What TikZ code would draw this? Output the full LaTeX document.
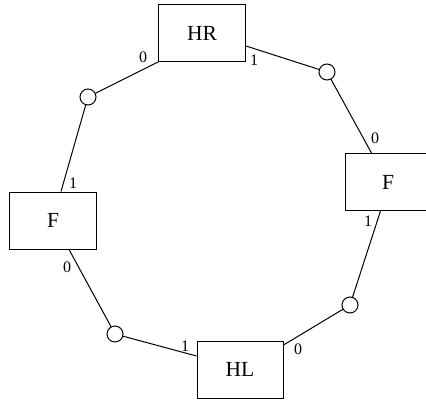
\documentclass[tikz,border=0pt]{standalone}
\usepackage{fontspec}
\setmainfont{Liberation Serif}
\usetikzlibrary{calc}
\tikzset{
  box/.style={draw, line width=1pt, minimum width=87pt, minimum height=57pt, inner sep=0pt, font=\fontsize{21.5}{23}\selectfont},
  dot/.style={draw, circle, line width=1pt, minimum size=16pt, inner sep=0pt},
  lbl/.style={inner sep=0pt, font=\fontsize{16}{17}\selectfont},
  wire/.style={line width=1pt}
}
\begin{document}
\begin{tikzpicture}[x=1pt,y=-1pt]
\useasboundingbox (0,0) rectangle (426,400);
\begin{scope}
\clip (0,0) rectangle (426,400);
\node[box] (HR) at (202,33) {HR};
\node[box, minimum width=86pt] (FR) at (388,182) {F};
\node[box] (FL) at (53,220.5) {F};
\node[box, minimum width=86pt] (HL) at (240,369.5) {HL};
\node[dot] (c1) at (88,97) {};
\node[dot] (c2) at (327,72) {};
\node[dot] (c3) at (350,305) {};
\node[dot] (c4) at (115,334) {};
\coordinate (hr0) at (HR.south west);
\coordinate (hr1) at ($(HR.east)+(0,13)$);
\coordinate (fr0) at ($(FR.north west)+(27,0)$);
\coordinate (fr1) at ($(FR.south west)+(36,0)$);
\coordinate (hl0) at ($(HL.east)+(0,-24.5)$);
\coordinate (hl1) at ($(HL.west)+(0,-13.5)$);
\coordinate (fl0) at ($(FL.south west)+(60,0)$);
\coordinate (fl1) at ($(FL.north west)+(52,0)$);
\draw[wire] (hr0) -- (c1);
\draw[wire] (hr1) -- (c2);
\draw[wire] (c2) -- (fr0);
\draw[wire] (fr1) -- (c3);
\draw[wire] (c3) -- (hl0);
\draw[wire] (hl1) -- (c4);
\draw[wire] (c4) -- (fl0);
\draw[wire] (fl1) -- (c1);
\node[lbl] (l1) at (143,57) {0};
\node[lbl] (l2) at (254,60) {1};
\node[lbl] (l3) at (375,138) {0};
\node[lbl] (l4) at (368,221) {1};
\node[lbl] (l5) at (298,349) {0};
\node[lbl] (l6) at (185,346) {1};
\node[lbl] (l7) at (67,267) {0};
\node[lbl] (l8) at (73,183) {1};
\end{scope}
\end{tikzpicture}
\end{document}
